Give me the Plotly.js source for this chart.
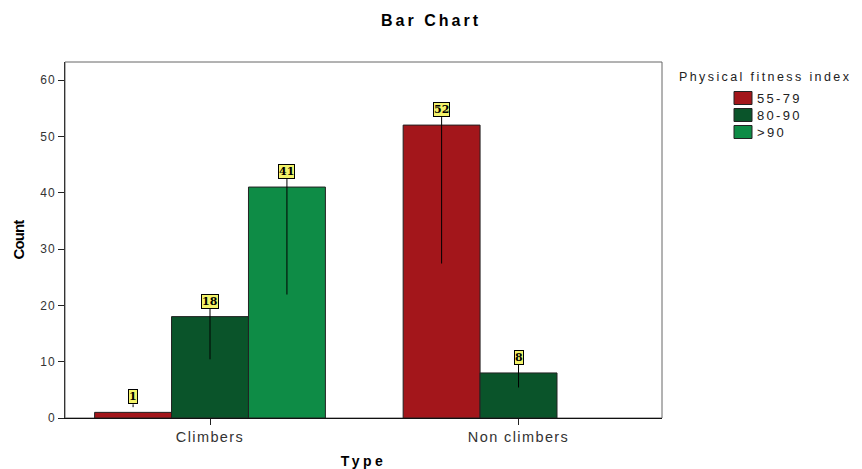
<!DOCTYPE html>
<html>
<head>
<meta charset="utf-8">
<script src="https://cdn.plot.ly/plotly-3.0.1.min.js"></script>
<style>
html,body{margin:0;padding:0;background:#fff;}
#chart{width:862px;height:469px;}
#chart .gtitle{letter-spacing:3px;}
#chart .xtick text{letter-spacing:1.4px;}
#chart .ytick text{letter-spacing:1px;}
#chart .xtitle{letter-spacing:3.5px;}
#chart .ytitle{letter-spacing:-0.9px;}
</style>
</head>
<body>
<div id="chart"></div>
<script>
const categories = ["Climbers", "Non climbers"];
const seriesNames = ["55-79", "80-90", ">90"];
const values_55_79 = [1, 52];
const values_80_90 = [18, 8];
const values_gt90 = [41, null];
const seriesColors = ["#a3161b", "#0a542a", "#0e8c46"];
const legendTitle = "Physical fitness index";

const allValues = [values_55_79, values_80_90, values_gt90];
const catIdx = categories.map((c, i) => i);
const bargap = 0.252;
const barW = (1 - bargap) / seriesNames.length;

const traces = seriesNames.map((name, s) => ({
  type: "bar",
  name: name,
  x: catIdx,
  y: allValues[s],
  marker: { color: seriesColors[s], line: { color: "#222", width: 1 } },
  hoverinfo: "skip",
  showlegend: false
}));

// plot area geometry (px) for placing the legend in paper coordinates
const M = { l: 65, r: 200, t: 62, b: 51 }, W = 862, H = 469;
const pw = W - M.l - M.r, ph = H - M.t - M.b;
const px2x = px => (px - M.l) / pw;
const py2y = py => (H - M.b - py) / ph;

const annotations = [];
const shapes = [];
allValues.forEach((vals, s) => {
  vals.forEach((v, i) => {
    if (v === null || v === undefined) return;
    const xp = i + (s - (seriesNames.length - 1) / 2) * barW;
    annotations.push({
      x: xp, y: v / 2, xref: "x", yref: "y",
      ax: xp, ay: v, axref: "x", ayref: "y",
      text: "<b>" + v + "</b>",
      showarrow: true, arrowhead: 0, arrowwidth: 1, arrowcolor: "#000",
      yanchor: "bottom", xanchor: "center", yshift: 8,
      bgcolor: "#f3f36a", bordercolor: "#000", borderwidth: 1, borderpad: 0,
      font: { family: "DejaVu Serif", size: 11, color: "#000" }
    });
  });
});

// legend title
annotations.push({
  xref: "paper", yref: "paper", x: px2x(677), y: py2y(77), xanchor: "left", yanchor: "middle",
  text: '<span style="letter-spacing:2.4px">' + legendTitle + "</span>", showarrow: false,
  font: { family: "Liberation Sans, Arial", size: 12.5, color: "#222" }
});
// legend entries
seriesNames.forEach((name, s) => {
  const cy = 98 + s * 17;
  shapes.push({
    type: "rect", xref: "paper", yref: "paper",
    x0: px2x(734), x1: px2x(752), y0: py2y(cy + 6.5), y1: py2y(cy - 6.5),
    fillcolor: seriesColors[s], line: { color: "#222", width: 1 }
  });
  annotations.push({
    xref: "paper", yref: "paper", x: px2x(755), y: py2y(cy), xanchor: "left", yanchor: "middle",
    text: '<span style="letter-spacing:2.3px">' + name + "</span>", showarrow: false,
    font: { family: "Liberation Sans, Arial", size: 13, color: "#222" }
  });
});

// plot frame (light) behind the black axis lines
shapes.push({
  type: "rect", xref: "paper", yref: "paper", x0: 0, x1: 1, y0: 0, y1: 1,
  line: { color: "#666", width: 1 }, fillcolor: "rgba(0,0,0,0)", layer: "below"
});

const layout = {
  width: W, height: H,
  margin: M,
  paper_bgcolor: "#fff", plot_bgcolor: "#fff",
  barmode: "group", bargap: bargap, bargroupgap: 0,
  title: { text: "<b>Bar Chart</b>", x: 0.5, xref: "container", xanchor: "center", y: 0.957, yanchor: "middle",
    font: { family: "Liberation Sans, Arial", size: 16, color: "#000" } },
  xaxis: {
    range: [-0.47, 1.465], tickvals: catIdx, ticktext: categories,
    ticks: "outside", ticklen: 6, tickcolor: "#222",
    showline: true, linecolor: "#111", linewidth: 1,
    showgrid: false, zeroline: false,
    tickfont: { family: "Liberation Sans, Arial", size: 14.5, color: "#333" },
    title: { text: "<b>Type</b>", font: { family: "Liberation Sans, Arial", size: 14, color: "#000" }, standoff: 14 }
  },
  yaxis: {
    range: [0, 63.2], tickvals: [0, 10, 20, 30, 40, 50, 60],
    ticks: "outside", ticklen: 6, tickcolor: "#222",
    showline: true, linecolor: "#333", linewidth: 1,
    showgrid: false, zeroline: false,
    tickfont: { family: "Liberation Sans, Arial", size: 12, color: "#333" },
    title: { text: "<b>Count</b>", font: { family: "Liberation Sans, Arial", size: 15, color: "#000" }, standoff: 13 }
  },
  showlegend: false,
  annotations: annotations,
  shapes: shapes
};

Plotly.newPlot("chart", traces, layout, { displayModeBar: false, staticPlot: true });
</script>
</body>
</html>
